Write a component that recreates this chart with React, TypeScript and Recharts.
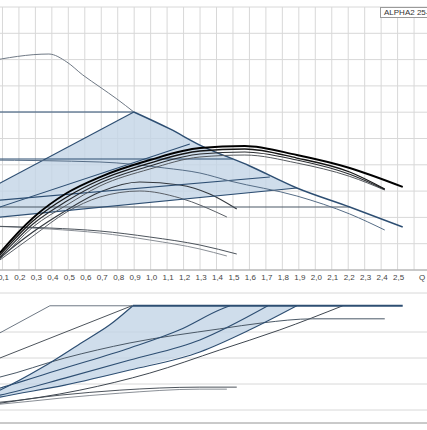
import React from 'react';
import { ComposedChart, Line, Area, XAxis, YAxis, CartesianGrid } from 'recharts';

// flow axis (m3/h), shared by both panels
const qTicks = [0.1, 0.2, 0.3, 0.4, 0.5, 0.6, 0.7, 0.8, 0.9, 1.0, 1.1, 1.2, 1.3, 1.4, 1.5, 1.6, 1.7, 1.8, 1.9, 2.0, 2.1, 2.2, 2.3, 2.4, 2.5, 2.6, 2.7];
const hTicks = [0, 0.5, 1, 1.5, 2, 2.5, 3, 3.5, 4, 4.5, 5];
const pTicks = [0, 1, 2, 3, 4, 5, 6, 7, 8, 9, 10];

// ---- head panel (H) ----
const maxGrayQ = [0, 0.382, 0.491, 0.588, 0.692, 0.795, 0.898];
const maxGrayH = [3.96, 4.106, 3.954, 3.707, 3.479, 3.251, 3.004];
const maxBlueQ = [0.898, 1.117, 1.299, 1.602, 1.888, 2.209, 2.531];
const maxBlueH = [3.004, 2.681, 2.376, 1.977, 1.559, 1.198, 0.818];
const cp3Q = [0, 0.898];
const cp3H = [3.004, 3.004];
const pp3Q = [0, 0.898];
const pp3H = [1.51, 3.004];
const cp2Q = [0, 1.499];
const cp2H = [2.11, 2.11];
const cp1Q = [0, 2.209];
const cp1H = [1.198, 1.198];
const ppLowQ = [0, 1.888];
const ppLowH = [0.981, 1.559];
const ppAQ = [0, 1.238];
const ppAH = [1.11, 2.395];
const ppBQ = [0, 1.724];
const ppBH = [1.306, 1.768];
const s1Q = [0, 0.692, 1.086, 1.299, 1.481, 1.888, 2.209, 2.422];
const s1H = [2.091, 2.053, 1.939, 1.844, 1.692, 1.407, 1.065, 0.76];

const k1Q = [0, 0.084, 0.285, 0.491, 0.692, 0.995, 1.299, 1.572, 1.888, 2.209, 2.531];
const k1H = [0, 0.323, 0.989, 1.464, 1.768, 2.091, 2.319, 2.357, 2.186, 1.939, 1.578];
const k2Q = [0, 0.084, 0.285, 0.491, 0.692, 0.995, 1.299, 1.572, 1.888, 2.209, 2.422];
const k2H = [0, 0.285, 0.932, 1.388, 1.711, 2.034, 2.262, 2.3, 2.129, 1.863, 1.54];
const k3Q = [0, 0.084, 0.285, 0.491, 0.692, 0.995, 1.299, 1.572, 1.888, 2.209, 2.422];
const k3H = [0, 0.247, 0.875, 1.312, 1.654, 1.977, 2.205, 2.243, 2.091, 1.82, 1.53];
const k4Q = [0, 0.084, 0.285, 0.491, 0.692, 0.995, 1.299, 1.572, 1.888, 2.209, 2.422];
const k4H = [0, 0.209, 0.818, 1.236, 1.597, 1.92, 2.148, 2.186, 2.034, 1.78, 1.52];

const d1Q = [0, 0.084, 0.285, 0.491, 0.692, 0.934, 1.177, 1.359, 1.523];
const d1H = [0, 0.228, 0.722, 1.141, 1.483, 1.673, 1.616, 1.445, 1.16];
const d2Q = [0, 0.084, 0.285, 0.491, 0.692, 0.934, 1.177, 1.463];
const d2H = [0, 0.19, 0.646, 1.103, 1.388, 1.502, 1.369, 1.008];

const g1Q = [0, 0.388, 0.692, 0.995, 1.299, 1.523];
const g1H = [0.837, 0.798, 0.741, 0.627, 0.475, 0.304];
const g2Q = [0, 0.388, 0.692, 0.995, 1.299, 1.463];
const g2H = [0.837, 0.779, 0.703, 0.57, 0.399, 0.266];

const hBandQ = [0, 0.898, 1.117, 1.299, 1.602, 1.888];
const hBandLo = [0.981, 1.256, 1.323, 1.379, 1.471, 1.559];
const hBandHi = [1.51, 3.004, 2.681, 2.376, 1.977, 1.559];

// ---- power panel (P1) ----
const pMaxGrayQ = [0, 0.388, 0.892];
const pMaxGrayP = [6.352, 9.018, 9.018];
const pMaxBlueQ = [0.892, 2.531];
const pMaxBlueP = [9.018, 9.018];
const pM2Q = [0, 0.886];
const pM2P = [4.575, 9.018];
const pLeftQ = [0, 0.084, 0.346, 0.588, 0.752, 0.892];
const pLeftP = [2.063, 2.527, 4.304, 6.236, 7.55, 9.018];
const pCQ = [0, 0.084, 0.479, 0.874, 1.299, 1.602, 1.888];
const pCP = [1.754, 1.986, 2.914, 4.073, 5.464, 7.164, 9.018];
const pAQ = [0, 0.084, 0.479, 0.874, 1.177, 1.42, 1.481];
const pAP = [2.372, 2.682, 4.227, 5.773, 7.164, 8.709, 9.018];
const pBQ = [0, 0.084, 0.479, 0.874, 1.299, 1.712];
const pBP = [1.909, 2.141, 3.454, 4.845, 6.391, 9.018];
const pDQ = [0, 0.084, 0.57, 0.995, 1.42, 1.785, 2.167];
const pDP = [1.368, 1.522, 2.527, 3.841, 5.618, 7.164, 9.018];
const pEQ = [0, 0.084, 0.479, 0.874, 1.42, 1.681, 1.985, 2.422];
const pEP = [3.3, 3.532, 5.0, 6.159, 7.241, 7.705, 8.014, 8.014];
const pFQ = [0, 0.084, 0.449, 0.813, 1.299, 1.523];
const pFP = [1.522, 1.6, 2.141, 2.527, 2.759, 2.759];
const pF2Q = [0, 0.084, 0.449, 0.813, 1.299, 1.463];
const pF2P = [1.368, 1.445, 1.909, 2.295, 2.604, 2.604];

const pBandQ = [0, 0.084, 0.346, 0.588, 0.752, 0.892, 1.299, 1.602, 1.888];
const pBandLo = [1.754, 1.986, 2.604, 3.145, 3.686, 4.15, 5.464, 7.164, 9.018];
const pBandHi = [2.063, 2.527, 4.304, 6.236, 7.55, 9.018, 9.018, 9.018, 9.018];

const pts = (q: number[], y: number[]) => q.map((v, i) => ({ q: v, y: y[i] }));
const band = (q: number[], lo: number[], hi: number[]) => q.map((v, i) => ({ q: v, range: [lo[i], hi[i]] }));

const BLUE = '#2d4e72';
const GRAY = '#6f7985';
const FILL = '#c3d4e6';
const FONT = 'Liberation Sans, Arial, sans-serif';

const QTick = (props: any) => {
  const { x, y, payload } = props;
  const v = payload.value;
  if (v > 2.65) return null;
  const label = v > 2.55 ? 'Q' : v.toFixed(1).replace('.', ',');
  return (
    <text x={x + (label === 'Q' ? 8 : 1)} y={y + 10} textAnchor="middle" fontSize={8} fill="#444" fontFamily={FONT}>
      {label}
    </text>
  );
};

const line = (key: string, q: number[], y: number[], color: string, w = 1, curve = false) => (
  <Line
    key={key}
    data={pts(q, y)}
    dataKey="y"
    type={curve ? 'monotone' : 'linear'}
    stroke={color}
    strokeWidth={w}
    dot={false}
    activeDot={false}
    isAnimationActive={false}
  />
);

export default function App() {
  return (
    <div style={{ position: 'absolute', left: 0, top: 0, width: 427, height: 430, overflow: 'hidden', background: '#fff' }}>
      {/* head panel */}
      <div style={{ position: 'absolute', left: -14, top: 0 }}>
        <ComposedChart width={461} height={290} margin={{ top: 7, right: 0, bottom: 0, left: 0 }}>
          <CartesianGrid stroke="#d8d8d8" strokeWidth={1} />
          <XAxis
            dataKey="q"
            type="number"
            domain={[0, 2.8]}
            ticks={qTicks}
            allowDataOverflow
            height={20}
            tickLine={false}
            tickSize={0}
            tickMargin={0}
            axisLine={{ stroke: '#a8a8a8' }}
            tick={<QTick />}
            interval={0}
          />
          <YAxis hide type="number" domain={[0, 5]} ticks={hTicks} allowDataOverflow />
          <Area
            data={band(hBandQ, hBandLo, hBandHi)}
            dataKey="range"
            type="linear"
            stroke="none"
            fill={FILL}
            fillOpacity={0.8}
            isAnimationActive={false}
          />
          {line('g2', g2Q, g2H, '#8a8f96', 1, true)}
          {line('g1', g1Q, g1H, '#4d545c', 1, true)}
          {line('d2', d2Q, d2H, '#5a5f66', 1, true)}
          {line('d1', d1Q, d1H, '#33383e', 1.2, true)}
          {line('maxGray', maxGrayQ, maxGrayH, GRAY, 1, true)}
          {line('cp3', cp3Q, cp3H, BLUE, 1.2)}
          {line('pp3', pp3Q, pp3H, BLUE, 1.2)}
          {line('cp2', cp2Q, cp2H, BLUE, 1.2)}
          {line('cp1', cp1Q, cp1H, '#4a5866', 1.2)}
          {line('ppLow', ppLowQ, ppLowH, BLUE, 1.2)}
          {line('ppA', ppAQ, ppAH, BLUE, 1.1)}
          {line('ppB', ppBQ, ppBH, BLUE, 1.1)}
          {line('s1', s1Q, s1H, '#566d86', 1, true)}
          {line('maxBlue', maxBlueQ, maxBlueH, BLUE, 1.4, true)}
          {line('k4', k4Q, k4H, '#55595e', 1, true)}
          {line('k3', k3Q, k3H, '#2a2d31', 1.1, true)}
          {line('k2', k2Q, k2H, '#151515', 1.3, true)}
          {line('k1', k1Q, k1H, '#000', 1.9, true)}
        </ComposedChart>
      </div>

      {/* power panel */}
      <div style={{ position: 'absolute', left: -14, top: 290 }}>
        <ComposedChart width={461} height={140} margin={{ top: 3, right: 0, bottom: 0, left: 0 }}>
          <CartesianGrid stroke="#d8d8d8" strokeWidth={1} />
          <XAxis
            dataKey="q"
            type="number"
            domain={[0, 2.8]}
            ticks={qTicks}
            allowDataOverflow
            height={7}
            tick={false}
            tickLine={false}
            axisLine={{ stroke: '#a8a8a8' }}
          />
          <YAxis hide type="number" domain={[0, 10]} ticks={pTicks} allowDataOverflow />
          <Area
            data={band(pBandQ, pBandLo, pBandHi)}
            dataKey="range"
            type="linear"
            stroke="none"
            fill={FILL}
            fillOpacity={0.8}
            isAnimationActive={false}
          />
          {line('pF2', pF2Q, pF2P, '#8a8f96', 1, true)}
          {line('pF', pFQ, pFP, '#4d545c', 1, true)}
          {line('pMaxGray', pMaxGrayQ, pMaxGrayP, GRAY, 1)}
          {line('pM2', pM2Q, pM2P, '#4d545c', 1)}
          {line('pD', pDQ, pDP, '#3f4750', 1, true)}
          {line('pE', pEQ, pEP, '#4a5866', 1, true)}
          {line('pC', pCQ, pCP, BLUE, 1.1, true)}
          {line('pB', pBQ, pBP, BLUE, 1.1, true)}
          {line('pA', pAQ, pAP, BLUE, 1.1, true)}
          {line('pLeft', pLeftQ, pLeftP, BLUE, 1.2, true)}
          {line('pMaxBlue', pMaxBlueQ, pMaxBlueP, BLUE, 1.8)}
        </ComposedChart>
      </div>

      {/* model tag */}
      <div
        style={{
          position: 'absolute',
          left: 380,
          top: 7,
          height: 9,
          padding: '0 3px',
          border: '1px solid #9a9a9a',
          background: '#fff',
          fontFamily: FONT,
          fontSize: 8,
          lineHeight: '9px',
          color: '#333',
          whiteSpace: 'nowrap',
        }}
      >
        ALPHA2 25-40
      </div>
    </div>
  );
}
